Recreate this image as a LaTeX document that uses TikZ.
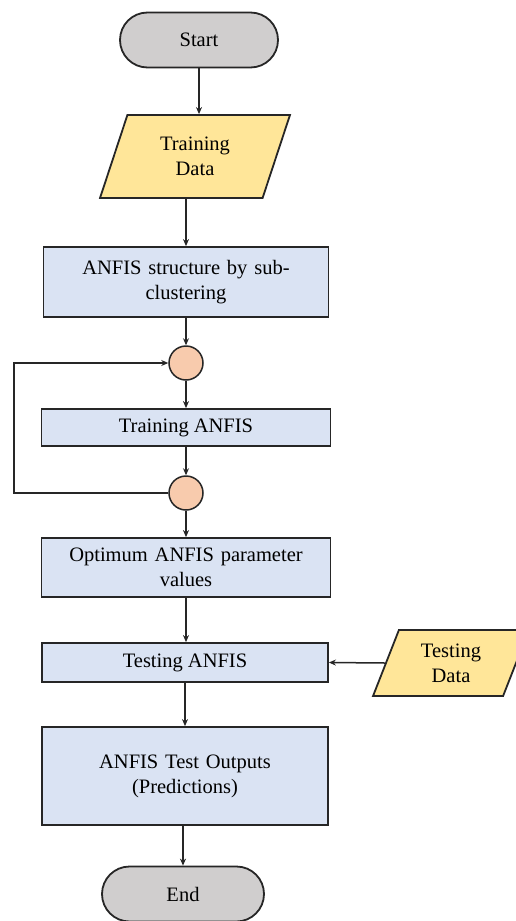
\documentclass[tikz,border=0pt]{standalone}
\usepackage{fontspec}
\setmainfont{Liberation Serif}
\usetikzlibrary{shapes.geometric,shapes.misc,arrows.meta}
\definecolor{boxblue}{HTML}{DAE3F3}
\definecolor{datayellow}{HTML}{FFE699}
\definecolor{joinorange}{HTML}{F8CBAD}
\definecolor{termgray}{HTML}{D0CECE}
\definecolor{edge}{HTML}{262626}
\begin{document}
\begin{tikzpicture}[x=1pt,y=-1pt,
  every node/.style={font=\fontsize{20.5}{25}\selectfont, text=black, align=center, inner sep=2pt},
  terminal/.style={rounded rectangle, draw=edge, line width=1.8pt, fill=termgray,
    minimum width=#1, minimum height=55pt},
  procbox/.style={rectangle, draw=edge, line width=1.8pt, fill=boxblue},
  datashape/.style={trapezium, trapezium stretches=true, draw=edge, line width=1.8pt,
    fill=datayellow, text width=90pt},
  joint/.style={circle, draw=edge, line width=1.5pt, fill=joinorange, minimum size=34pt, inner sep=0pt},
  arr/.style={draw=edge, line width=1.5pt, -{Stealth[length=7pt,width=6pt]}}]
\useasboundingbox (0,0) rectangle (515,921);

% terminals
\node[terminal=162pt] (start) at (199,40) {Start};
\node[terminal=166pt] (stop) at (183,894) {End};

% input data
\node[datashape, trapezium left angle=66, trapezium right angle=114,
  minimum width=190pt, minimum height=83pt] (td) at (195,156.5) {Training\\Data};
\node[datashape, trapezium left angle=64, trapezium right angle=116,
  minimum width=156pt, minimum height=66pt, text width=80pt] (testd) at (451,663) {Testing\\Data};

% processing steps
\node[procbox, minimum width=285pt, minimum height=70pt, text width=270pt] (b2) at (186,282)
  {ANFIS structure by sub-\\clustering};
\node[joint] (c1) at (186,363) {};
\node[procbox, minimum width=289pt, minimum height=37pt] (b3) at (186,427.5) {Training ANFIS};
\node[joint] (c2) at (186,493) {};
\node[procbox, minimum width=289pt, minimum height=59pt, text width=270pt] (b4) at (186,567.5)
  {Optimum ANFIS parameter\\values};
\node[procbox, minimum width=286pt, minimum height=39pt] (b5) at (185,662.5) {Testing ANFIS};
\node[procbox, minimum width=286pt, minimum height=98pt, text width=270pt] (b6) at (185,776)
  {ANFIS Test Outputs\\(Predictions)};

% connectors
\draw[arr] (start.south) -- (td.north -| start.south);
\draw[arr] (td.south -| b2.north) -- (b2.north);
\draw[arr] (b2.south) -- (c1.north);
\draw[arr] (c1.south) -- (b3.north);
\draw[arr] (b3.south) -- (c2.north);
\coordinate (loop) at (14,493);
\draw[arr] (c2.west) -- (loop) |- (c1.west);
\draw[arr] (c2.south) -- (b4.north -| c2.south);
\draw[arr] (b4.south) -- (b5.north -| b4.south);
\draw[arr] (testd.west) -- (b5.east);
\draw[arr] (b5.south) -- (b6.north);
\draw[arr] (b6.south -| stop.north) -- (stop.north);
\end{tikzpicture}
\end{document}
